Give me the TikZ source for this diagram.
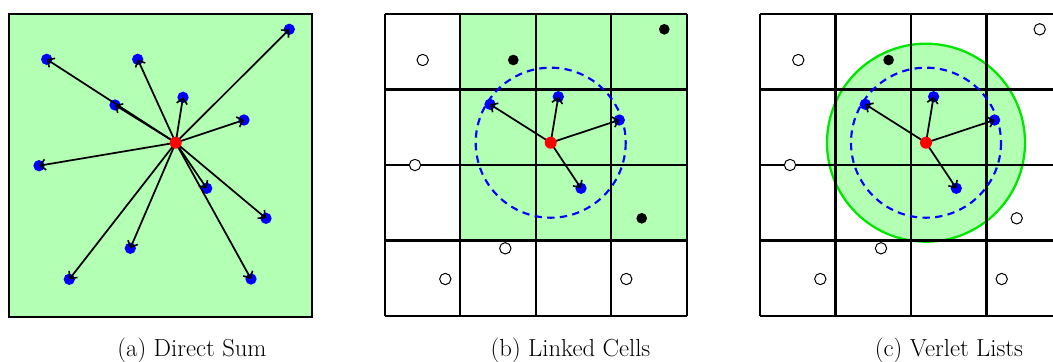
\documentclass[tikz,border=0pt]{standalone}
\usetikzlibrary{arrows.meta}
\begin{document}
\begin{tikzpicture}[x=0.75pt,y=0.75pt,yscale=-1,xscale=1,
  bluedot/.style={circle,inner sep=0pt,minimum size=8.5pt,fill={rgb, 255:red, 0; green, 0; blue, 255 }},
  reddot/.style={circle,inner sep=0pt,minimum size=9pt,fill={rgb, 255:red, 255; green, 0; blue, 0 }},
  blackdot/.style={circle,inner sep=0pt,minimum size=8pt,fill=black},
  opendot/.style={circle,inner sep=0pt,minimum size=8.5pt,draw=black,line width=0.75pt,fill=white},
  force/.style={-{Straight Barb[length=4pt,width=8pt,line width=1.2pt]},line width=1.3pt,color=black},
  cellline/.style={line width=1.7pt,color=black},
  cutoff/.style={line width=1.6pt,dash pattern=on 5.5pt off 4pt,color={rgb, 255:red, 0; green, 0; blue, 255 }},
  caption/.style={anchor=base,inner sep=0.75pt,font=\fontsize{18.5}{22}\selectfont}]
\useasboundingbox (0,0) rectangle (1053,361);

%Shape: Square [id:direct sum box]
\draw [cellline][fill={rgb, 255:red, 179; green, 255; blue, 179 }] (9,14) rectangle (312,317) ;
% Particles
\node [bluedot] (a1) at (289.3,29.3) {};
\node [bluedot] (a2) at (46.7,59.3) {};
\node [bluedot] (a3) at (137.7,59.3) {};
\node [bluedot] (a4) at (183,97.3) {};
\node [bluedot] (a5) at (115,105) {};
\node [bluedot] (a6) at (244,120) {};
\node [bluedot] (a7) at (39,165.7) {};
\node [bluedot] (a8) at (206.7,188.3) {};
\node [bluedot] (a9) at (266,218.3) {};
\node [bluedot] (a10) at (130.3,248.3) {};
\node [bluedot] (a11) at (69.3,279.3) {};
\node [bluedot] (a12) at (251,279) {};
\coordinate (ca) at (175.7,142.7);
% Forces
\foreach \n in {1,...,12} \draw [force] (ca) -- (a\n.center) ;
\node [reddot] (ra) at (ca) {};

%Shape: Linked cells [id:green cells]
\fill [color={rgb, 255:red, 179; green, 255; blue, 179 }] (460.2,14) rectangle (686.7,240.5) ;
%Straight Lines [id:cell grid b]
\draw [cellline] (384.7,14) -- (384.7,316)(460.2,14) -- (460.2,316)(535.7,14) -- (535.7,316)(611.2,14) -- (611.2,316)(686.7,14) -- (686.7,316) ;
\draw [cellline] (384.7,14) -- (686.7,14)(384.7,89.5) -- (686.7,89.5)(384.7,165) -- (686.7,165)(384.7,240.5) -- (686.7,240.5)(384.7,316) -- (686.7,316) ;
\coordinate (cb) at (550.7,142.7);
%Shape: Circle [id:cutoff b]
\draw [cutoff] (cb) circle [radius=75] ;
% Particles
\node [opendot] (ob1) at (422.7,60) {};
\node [opendot] (ob2) at (415,165) {};
\node [opendot] (ob3) at (505.3,248.3) {};
\node [opendot] (ob4) at (445.3,279) {};
\node [opendot] (ob5) at (626.3,279) {};
\node [blackdot] (kb1) at (513.3,60) {};
\node [blackdot] (kb2) at (664.3,29.3) {};
\node [blackdot] (kb3) at (641.7,218.3) {};
\node [bluedot] (b1) at (490,104.3) {};
\node [bluedot] (b2) at (558.3,96.7) {};
\node [bluedot] (b3) at (619.3,120) {};
\node [bluedot] (b4) at (581,188.3) {};
% Forces
\foreach \n in {1,...,4} \draw [force] (cb) -- (b\n.center) ;
\node [reddot] (rb) at (cb) {};

\coordinate (cc) at (926,142.7);
%Shape: Circle [id:verlet skin]
\draw [line width=1.7pt,color={rgb, 255:red, 0; green, 230; blue, 0 }][fill={rgb, 255:red, 179; green, 255; blue, 179 }] (cc) circle [radius=99] ;
%Straight Lines [id:cell grid c]
\begin{scope}
\clip (0,0) rectangle (1053,361);
\draw [cellline] (760,14) -- (760,316)(835.5,14) -- (835.5,316)(911,14) -- (911,316)(986.5,14) -- (986.5,316)(1062,14) -- (1062,316) ;
\draw [cellline] (760,14) -- (1062,14)(760,89.5) -- (1062,89.5)(760,165) -- (1062,165)(760,240.5) -- (1062,240.5)(760,316) -- (1062,316) ;
\end{scope}
%Shape: Circle [id:cutoff c]
\draw [cutoff] (cc) circle [radius=75] ;
% Particles
\node [opendot] (oc1) at (798.3,60) {};
\node [opendot] (oc2) at (790,165) {};
\node [opendot] (oc3) at (881,248.3) {};
\node [opendot] (oc4) at (820.3,279) {};
\node [opendot] (oc5) at (1001.7,279) {};
\node [opendot] (oc6) at (1039.7,29.3) {};
\node [opendot] (oc7) at (1016.7,218.3) {};
\node [blackdot] (kc1) at (888.6,60) {};
\node [bluedot] (c1) at (865.3,104.3) {};
\node [bluedot] (c2) at (933.6,96.7) {};
\node [bluedot] (c3) at (994.6,120) {};
\node [bluedot] (c4) at (956.3,188.3) {};
% Forces
\foreach \n in {1,...,4} \draw [force] (cc) -- (c\n.center) ;
\node [reddot] (rc) at (cc) {};

% Text Node
\node [caption] (capa) at (192,356) {(a) Direct Sum};
% Text Node
\node [caption] (capb) at (570.5,356) {(b) Linked Cells};
% Text Node
\node [caption] (capc) at (949,356) {(c) Verlet Lists};

\end{tikzpicture}
\end{document}
